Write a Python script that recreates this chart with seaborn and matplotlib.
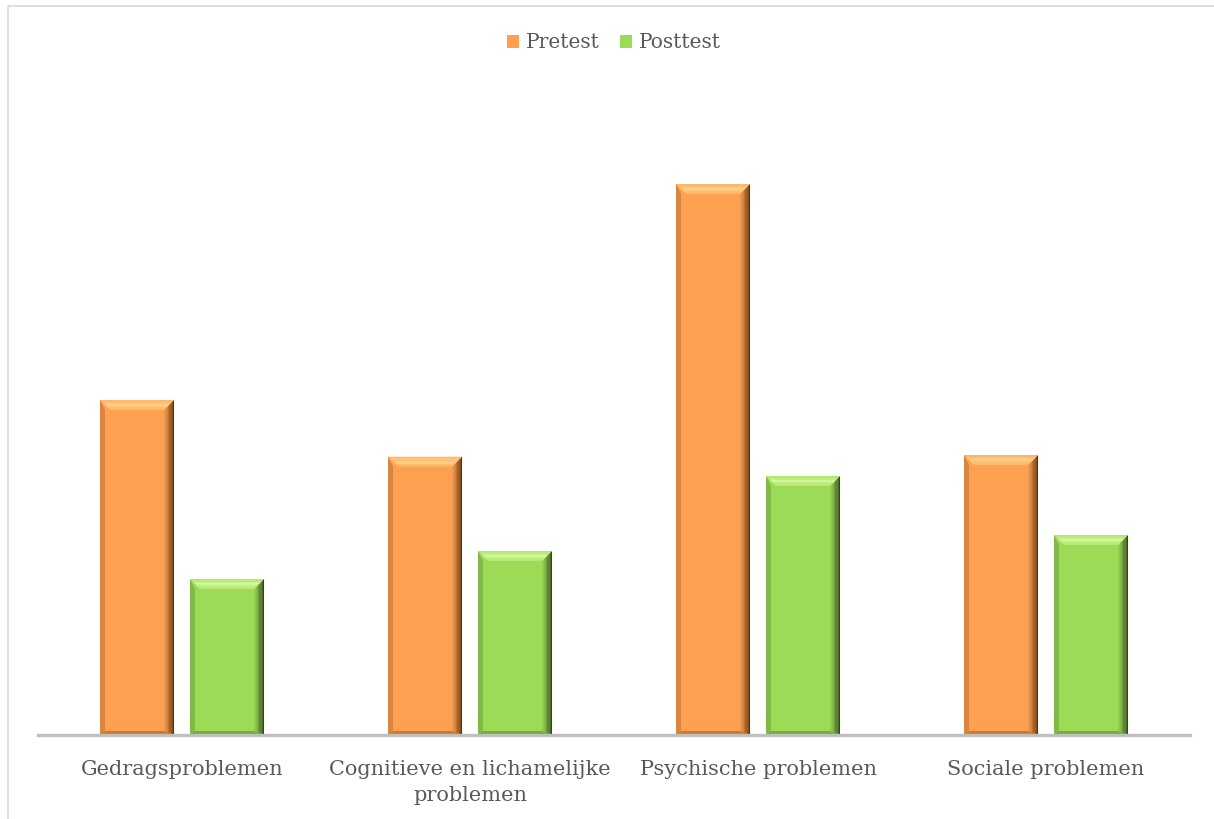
import matplotlib
matplotlib.use("Agg")
import matplotlib.pyplot as plt
import seaborn as sns
import pandas as pd
import numpy as np
from matplotlib.patches import Polygon, Rectangle
from matplotlib.colors import to_rgb

categories = ["Gedragsproblemen", "Cognitieve en lichamelijke\nproblemen",
              "Psychische problemen", "Sociale problemen"]
pretest = [6.08, 5.05, 10.0, 5.08]
posttest = [2.83, 3.34, 4.70, 3.63]
series = ["Pretest", "Posttest"]

df = pd.DataFrame({
    "cat": categories * 2,
    "val": pretest + posttest,
    "serie": [series[0]] * 4 + [series[1]] * 4,
})

sns.set_theme(style="white")
plt.rcParams["font.family"] = ["DejaVu Serif"]

face = {"Pretest": "#FDA04F", "Posttest": "#9CDB55"}
light = {"Pretest": "#FFD189", "Posttest": "#D2F79A"}
dark = {"Pretest": "#5A2E0B", "Posttest": "#2F4418"}
mid = {"Pretest": "#C7793A", "Posttest": "#77A93F"}

fig = plt.figure(figsize=(12.14, 8.19), dpi=100)
ax = fig.add_axes([38 / 1214, 1 - 735 / 819, 1152 / 1214, 645 / 819])

sns.barplot(data=df, x="cat", y="val", hue="serie", palette=face,
            width=0.625, gap=0.178, ax=ax, legend=True, linewidth=0,
            saturation=1)

ax.set_xlim(-0.5, 3.5)
ax.set_ylim(0, 645 / 55.1)


def blend(c1, c2, t):
    a, b = np.array(to_rgb(c1)), np.array(to_rgb(c2))
    return tuple(a + (b - a) * t)


# bevel effect derived from bar geometry
bx = 10 / 288.0
by = 10 / 55.1
nstep = 8
for patch, s in zip(ax.patches[:8], [series[0]] * 4 + [series[1]] * 4):
    x0, y0 = patch.get_x(), patch.get_y()
    w, h = patch.get_width(), patch.get_height()
    x1, y1 = x0 + w, y0 + h
    # left thin edge
    ax.add_patch(Polygon([(x0, y1), (x0, y0), (x0 + bx * 0.5, y0 + by * 0.4),
                          (x0 + bx * 0.5, y1 - by)], closed=True,
                         color=blend(mid[s], face[s], 0.3), lw=0, zorder=3))
    # bottom edge
    ax.add_patch(Polygon([(x0, y0), (x1, y0), (x1 - bx, y0 + by * 0.4),
                          (x0 + bx * 0.5, y0 + by * 0.4)], closed=True,
                         color=mid[s], lw=0, zorder=3))
    # right gradient (trapezoid strips)
    for i in range(nstep):
        fa = i / nstep
        fb = (i + 1) / nstep
        xa = x1 - bx + bx * fa
        xb = x1 - bx + bx * fb
        col = blend(face[s], dark[s], fb ** 1.3)
        ax.add_patch(Polygon([(xa, y0 + by * 0.4 * (1 - fa)), (xb + 1e-4, y0 + by * 0.4 * (1 - fb)),
                              (xb + 1e-4, y1 - by * (1 - fb)), (xa, y1 - by * (1 - fa))],
                             closed=True, color=col, lw=0, zorder=3))
    # top band
    for i in range(nstep):
        ya = y1 - by + by * i / nstep
        t = np.sin(np.pi * (i + 0.5) / nstep)
        col = blend(face[s], light[s], 0.35 + 0.65 * t)
        dxa = bx * (1 - i / nstep)
        dxb = bx * (1 - (i + 1) / nstep)
        ax.add_patch(Polygon([(x0 + dxa, ya), (x1 - dxa, ya),
                              (x1 - dxb, ya + by / nstep + 1e-4), (x0 + dxb, ya + by / nstep + 1e-4)],
                             closed=True, color=col, lw=0, zorder=3.5))

for sp in ["top", "right", "left"]:
    ax.spines[sp].set_visible(False)
ax.spines["bottom"].set_color("#BFBFBF")
ax.spines["bottom"].set_linewidth(2.4)
ax.spines["bottom"].set_zorder(5)
ax.set_yticks([])
ax.set_xlabel("")
ax.set_ylabel("")
ax.tick_params(axis="x", length=0, pad=18, labelsize=15, labelcolor="#595959")
for t in ax.get_xticklabels():
    t.set_linespacing(1.45)

leg = ax.legend(loc="center", bbox_to_anchor=(0.5, (735 - 43) / 645.0),
                ncol=2, frameon=False, fontsize=14.5, handlelength=0.6,
                handleheight=0.6, handletextpad=0.35, columnspacing=1.0,
                labelcolor="#595959")

# outer chart border
fig.patches.append(Rectangle((8 / 1214, -0.01), 1.02, 1 - 6 / 819 + 0.01,
                             transform=fig.transFigure, fill=False,
                             edgecolor="#D9D9D9", lw=1.2))

fig.savefig("out.png", dpi=100)
